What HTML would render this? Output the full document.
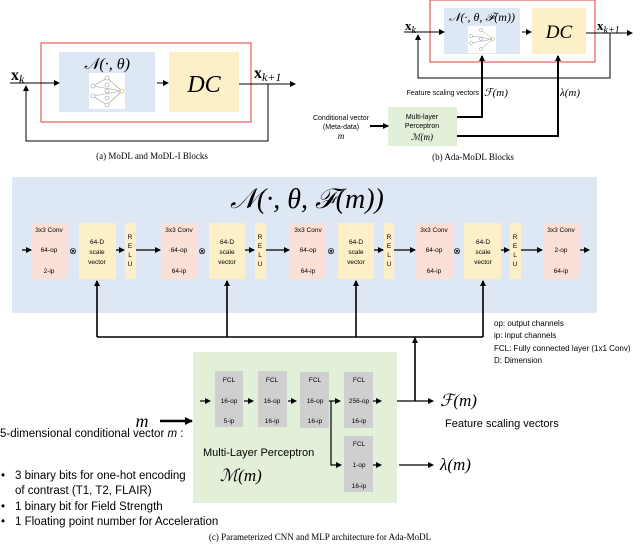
<!DOCTYPE html>
<html><head><meta charset="utf-8"><style>
body{margin:0;background:#fff}
svg{display:block}
.s{font-family:"Liberation Sans",sans-serif}
.m{font-family:"Liberation Serif",serif;font-style:italic}
.c{font-family:"Liberation Serif",serif}
</style></head><body>
<svg width="640" height="544" viewBox="0 0 640 544" xmlns="http://www.w3.org/2000/svg">
<defs>
<marker id="a" markerWidth="6" markerHeight="6" refX="5" refY="3" orient="auto" markerUnits="userSpaceOnUse"><path d="M0,0 L6,3 L0,6z" fill="#000"/></marker>
<marker id="b" markerWidth="8" markerHeight="8" refX="7" refY="4" orient="auto" markerUnits="userSpaceOnUse"><path d="M0,0 L8,4 L0,8z" fill="#000"/></marker>
</defs>
<!-- (a) -->
<rect x="59" y="52" width="96" height="60" fill="#dde8f4"/>
<rect x="169" y="52" width="70" height="60" fill="#fdf0c8"/>
<rect x="89" y="73" width="36" height="36" fill="#fff"/>
<g stroke="#999" stroke-width="0.6" fill="#fff"><line x1="93" y1="86" x2="122" y2="91"/><line x1="93" y1="96" x2="122" y2="91"/><line x1="107" y1="78" x2="122" y2="91"/><line x1="107" y1="105" x2="122" y2="91"/><line x1="93" y1="86" x2="107" y2="78"/><line x1="93" y1="96" x2="107" y2="105"/><circle cx="93" cy="86" r="2"/><circle cx="93" cy="96" r="2"/><circle cx="107" cy="78" r="2"/><circle cx="107" cy="85" r="2"/><circle cx="107" cy="91" r="2"/><circle cx="107" cy="98" r="2"/><circle cx="107" cy="105" r="2"/><circle cx="122" cy="91" r="2" stroke="#d9a040"/></g>
<text x="107" y="69" font-size="16" text-anchor="middle" class="m">𝒩(·, θ)</text>
<text x="204" y="92" font-size="24" text-anchor="middle" class="m">DC</text>
<rect x="41" y="43" width="210" height="79" fill="none" stroke="#e85a5a" stroke-width="1.2"/>
<line x1="10" y1="83" x2="59" y2="83" stroke="#000" marker-end="url(#a)"/>
<line x1="157" y1="83" x2="168" y2="83" stroke="#000" marker-end="url(#a)"/>
<line x1="239" y1="84" x2="295" y2="84" stroke="#000" marker-end="url(#a)"/>
<polyline points="268,84 268,141 26,141 26,86" fill="none" stroke="#000" marker-end="url(#a)"/>
<text x="11" y="80" font-size="16" class="c" font-weight="bold">x<tspan font-size="12" font-style="italic" font-weight="normal" dy="3">k</tspan></text>
<text x="254" y="78" font-size="16" class="c" font-weight="bold">x<tspan font-size="12" font-style="italic" font-weight="normal" dy="3">k+1</tspan></text>
<text x="152" y="159" font-size="9" text-anchor="middle" class="c">(a) MoDL and MoDL-I Blocks</text>
<!-- (b) -->
<rect x="444" y="8" width="76" height="46" fill="#dde8f4"/>
<rect x="532" y="8" width="54" height="46" fill="#fdf0c8"/>
<rect x="468" y="26" width="28" height="27" fill="#fff"/>
<g stroke="#999" stroke-width="0.5" fill="#fff"><line x1="471" y1="36" x2="493" y2="39"/><line x1="471" y1="43" x2="493" y2="39"/><line x1="481" y1="30" x2="493" y2="39"/><line x1="481" y1="49" x2="493" y2="39"/><circle cx="471" cy="36" r="1.5"/><circle cx="471" cy="43" r="1.5"/><circle cx="481" cy="30" r="1.5"/><circle cx="481" cy="39" r="1.5"/><circle cx="481" cy="49" r="1.5"/><circle cx="493" cy="39" r="1.5" stroke="#d9a040"/></g>
<text x="482" y="21" font-size="12" text-anchor="middle" class="m">𝒩(·, θ, ℱ(m))</text>
<text x="559" y="38" font-size="19" text-anchor="middle" class="m">DC</text>
<rect x="430" y="0" width="165" height="62" fill="none" stroke="#e85a5a" stroke-width="1.2"/>
<line x1="404" y1="32" x2="444" y2="32" stroke="#000" marker-end="url(#a)"/>
<line x1="522" y1="32" x2="531" y2="32" stroke="#000" marker-end="url(#a)"/>
<line x1="586" y1="33" x2="632" y2="33" stroke="#000" marker-end="url(#a)"/>
<polyline points="610,33 610,78 418,78 418,35" fill="none" stroke="#000" marker-end="url(#a)"/>
<text x="405" y="30" font-size="13" class="c" font-weight="bold">x<tspan font-size="10" font-style="italic" font-weight="normal" dy="3">k</tspan></text>
<text x="597" y="30" font-size="13" class="c" font-weight="bold">x<tspan font-size="10" font-style="italic" font-weight="normal" dy="3">k+1</tspan></text>
<rect x="388" y="107" width="69" height="39" fill="#e2efd9"/>
<text x="422" y="119" font-size="7" text-anchor="middle" class="s">Multi-layer</text>
<text x="422" y="128" font-size="7" text-anchor="middle" class="s">Perceptron</text>
<text x="422" y="140" font-size="9" text-anchor="middle" class="m">ℳ(m)</text>
<polyline points="457,117 482,117 482,56" fill="none" stroke="#000" stroke-width="2" marker-end="url(#a)"/>
<polyline points="457,136 558,136 558,56" fill="none" stroke="#000" stroke-width="2" marker-end="url(#a)"/>
<text x="479" y="95" font-size="7" text-anchor="end" class="s">Feature scaling vectors</text>
<text x="484" y="96" font-size="11" class="m">ℱ(m)</text>
<text x="560" y="96" font-size="11" class="m">λ(m)</text>
<text x="341" y="120" font-size="7" text-anchor="middle" class="s">Conditional vector</text>
<text x="341" y="129" font-size="7" text-anchor="middle" class="s">(Meta-data)</text>
<text x="341" y="139" font-size="9" text-anchor="middle" class="m">m</text>
<line x1="370" y1="126" x2="388" y2="126" stroke="#000" stroke-width="2" marker-end="url(#a)"/>
<text x="473" y="160" font-size="9" text-anchor="middle" class="c">(b) Ada-MoDL Blocks</text>
<!-- (c) -->
<rect x="12" y="177" width="585" height="136" fill="#dde8f4"/>
<text x="307" y="208" font-size="28" text-anchor="middle" class="m">𝒩(·, θ, ℱ(m))</text>
<g class="s" font-size="6.5" text-anchor="middle">
<g fill="#fbe0d5"><rect x="32" y="223" width="35" height="56"/><rect x="161" y="223" width="36" height="56"/><rect x="290" y="223" width="36" height="56"/><rect x="416" y="223" width="37" height="56"/><rect x="543" y="223" width="36" height="56"/></g>
<g fill="#fdf0c8"><rect x="79" y="223" width="37" height="56"/><rect x="209" y="223" width="36" height="56"/><rect x="338" y="223" width="36" height="56"/><rect x="464" y="223" width="37" height="56"/><rect x="125" y="223" width="11" height="56"/><rect x="255" y="223" width="11" height="56"/><rect x="384" y="223" width="10" height="56"/><rect x="510" y="223" width="11" height="56"/></g>
<text x="49" y="232">3x3 Conv</text><text x="49" y="252">64-op</text><text x="49" y="273">2-ip</text>
<text x="179" y="232">3x3 Conv</text><text x="179" y="252">64-op</text><text x="179" y="273">64-ip</text>
<text x="308" y="232">3x3 Conv</text><text x="308" y="252">64-op</text><text x="308" y="273">64-ip</text>
<text x="434" y="232">3x3 Conv</text><text x="434" y="252">64-op</text><text x="434" y="273">64-ip</text>
<text x="561" y="232">3x3 Conv</text><text x="561" y="252">2-op</text><text x="561" y="273">64-ip</text>
<g><text x="97" y="244">64-D</text><text x="97" y="254">scale</text><text x="97" y="264">vector</text></g>
<g><text x="227" y="244">64-D</text><text x="227" y="254">scale</text><text x="227" y="264">vector</text></g>
<g><text x="356" y="244">64-D</text><text x="356" y="254">scale</text><text x="356" y="264">vector</text></g>
<g><text x="483" y="244">64-D</text><text x="483" y="254">scale</text><text x="483" y="264">vector</text></g>
<g><text x="130" y="239">R</text><text x="130" y="248">E</text><text x="130" y="257">L</text><text x="130" y="266">U</text></g>
<g><text x="260" y="239">R</text><text x="260" y="248">E</text><text x="260" y="257">L</text><text x="260" y="266">U</text></g>
<g><text x="389" y="239">R</text><text x="389" y="248">E</text><text x="389" y="257">L</text><text x="389" y="266">U</text></g>
<g><text x="515" y="239">R</text><text x="515" y="248">E</text><text x="515" y="257">L</text><text x="515" y="266">U</text></g>
</g>
<g font-size="9" class="c" text-anchor="middle"><text x="73" y="254">⊗</text><text x="202" y="254">⊗</text><text x="331" y="254">⊗</text><text x="457" y="254">⊗</text></g>
<g stroke="#000" stroke-width="1.3" marker-end="url(#a)">
<line x1="22" y1="250" x2="31" y2="250"/><line x1="116" y1="250" x2="124" y2="250"/><line x1="136" y1="250" x2="160" y2="250"/>
<line x1="245" y1="250" x2="254" y2="250"/><line x1="266" y1="250" x2="289" y2="250"/>
<line x1="374" y1="250" x2="383" y2="250"/><line x1="394" y1="250" x2="415" y2="250"/>
<line x1="501" y1="250" x2="509" y2="250"/><line x1="521" y1="250" x2="542" y2="250"/>
<line x1="580" y1="250" x2="589" y2="250"/>
</g>
<g stroke="#000" stroke-width="1.6" fill="none">
<line x1="97" y1="337" x2="483" y2="337"/>
<line x1="97" y1="337" x2="97" y2="281" marker-end="url(#a)"/>
<line x1="227" y1="337" x2="227" y2="281" marker-end="url(#a)"/>
<line x1="356" y1="337" x2="356" y2="281" marker-end="url(#a)"/>
<line x1="483" y1="337" x2="483" y2="281" marker-end="url(#a)"/>
<line x1="415" y1="401" x2="415" y2="338" marker-end="url(#a)"/>
</g>
<g class="s" font-size="8"><text x="494" y="326">op: output channels</text><text x="494" y="338">ip: input channels</text><text x="494" y="351">FCL: Fully connected layer (1x1 Conv)</text><text x="494" y="363">D: Dimension</text></g>
<rect x="193" y="352" width="204" height="151" fill="#e2efd9"/>
<g fill="#cfcfcf"><rect x="215" y="371" width="28" height="56"/><rect x="258" y="371" width="29" height="56"/><rect x="300" y="372" width="29" height="56"/><rect x="344" y="372" width="29" height="56"/><rect x="344" y="436" width="29" height="56"/></g>
<g class="s" font-size="6.5" text-anchor="middle">
<text x="229" y="382">FCL</text><text x="229" y="403">16-op</text><text x="229" y="423">5-ip</text>
<text x="272" y="382">FCL</text><text x="272" y="403">16-op</text><text x="272" y="423">16-ip</text>
<text x="315" y="382">FCL</text><text x="315" y="403">16-op</text><text x="315" y="423">16-ip</text>
<text x="359" y="382">FCL</text><text x="359" y="403">256-op</text><text x="359" y="423">16-ip</text>
<text x="359" y="446">FCL</text><text x="359" y="467">1-op</text><text x="359" y="488">16-ip</text>
</g>
<g stroke="#000" stroke-width="1.2" fill="none" marker-end="url(#a)">
<line x1="200" y1="401" x2="210" y2="401"/><line x1="244" y1="401" x2="253" y2="401"/><line x1="288" y1="401" x2="296" y2="401"/>
<line x1="329" y1="401" x2="340" y2="401"/><polyline points="331,401 331,465 341,465"/>
<line x1="373" y1="401" x2="381" y2="401"/><line x1="373" y1="465" x2="381" y2="465"/>
<line x1="397" y1="401" x2="433" y2="401"/><line x1="399" y1="465" x2="433" y2="465"/>
</g>
<line x1="160" y1="421" x2="192" y2="421" stroke="#000" stroke-width="2.5" marker-end="url(#b)"/>
<text x="142" y="427" font-size="18" text-anchor="middle" class="m">m</text>
<text x="440" y="406" font-size="17" class="m">ℱ(m)</text>
<text x="440" y="470" font-size="17" class="m">λ(m)</text>
<text x="445" y="427" font-size="11" class="s">Feature scaling vectors</text>
<text x="203" y="456" font-size="11" class="s">Multi-Layer Perceptron</text>
<text x="220" y="481" font-size="17" class="m">ℳ(m)</text>
<g class="s" font-size="11.5">
<text x="0" y="437">5-dimensional conditional vector <tspan font-style="italic">m</tspan> :</text>
<text x="1" y="479">•</text><text x="15" y="479">3 binary bits for one-hot encoding</text>
<text x="15" y="494">of contrast (T1, T2, FLAIR)</text>
<text x="1" y="510">•</text><text x="15" y="510">1 binary bit for Field Strength</text>
<text x="1" y="525">•</text><text x="15" y="525">1 Floating point number for Acceleration</text>
</g>
<text x="320" y="540" font-size="9" text-anchor="middle" class="c">(c) Parameterized CNN and MLP architecture for Ada-MoDL</text>
</svg>
</body></html>
